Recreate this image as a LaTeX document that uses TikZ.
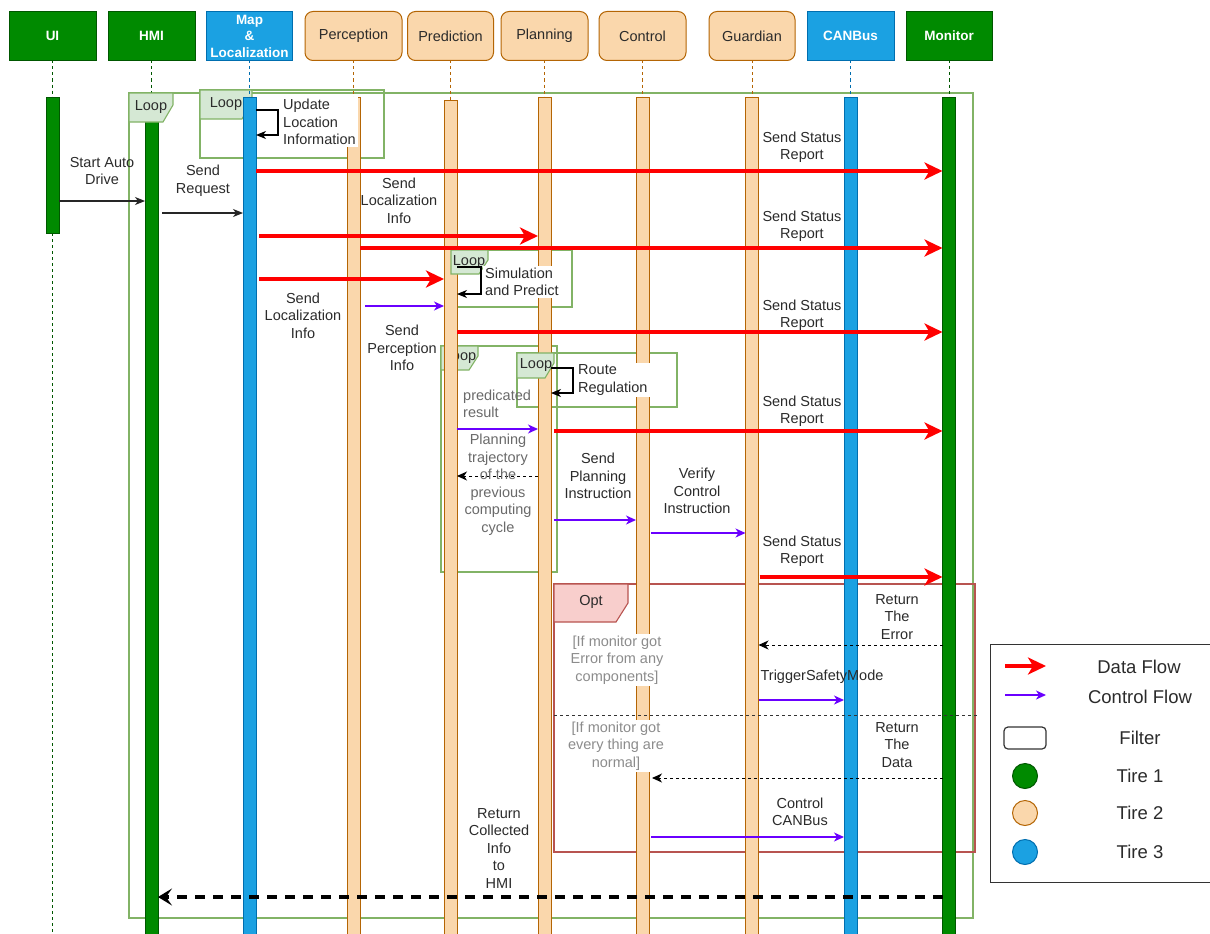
\documentclass[tikz,border=0pt]{standalone}
\usepackage{fontspec}
\setmainfont{Liberation Sans}
\usetikzlibrary{arrows.meta}

\definecolor{gfill}{HTML}{008A00}
\definecolor{gline}{HTML}{005700}
\definecolor{bfill}{HTML}{1BA1E2}
\definecolor{bline}{HTML}{006EAF}
\definecolor{ofill}{HTML}{FAD7AC}
\definecolor{oline}{HTML}{B46504}
\definecolor{frm}{HTML}{82B366}
\definecolor{frmfill}{HTML}{D5E8D4}
\definecolor{optline}{HTML}{B85450}
\definecolor{optfill}{HTML}{F8CECC}
\definecolor{ctrl}{HTML}{6A00FF}
\definecolor{txt}{HTML}{2B2B2B}
\definecolor{notedark}{HTML}{6A6A6A}
\definecolor{notelight}{HTML}{8C8C8C}

\newcommand\lblfont{\fontsize{14.5}{17.5}\selectfont}
\newcommand\hdfont{\fontsize{14.5}{17}\selectfont}
\newcommand\hdbold{\fontsize{13.5}{16.5}\selectfont\bfseries}
\newcommand\lgfont{\fontsize{18.5}{22}\selectfont}

\begin{document}
\begin{tikzpicture}[x=1pt,y=-1pt,
  head/.style={minimum height=49pt, inner sep=0pt, outer sep=0pt, line width=1pt, align=center},
  ghead/.style={head, minimum width=87pt, fill=gfill, draw=gline, text=white, font=\hdbold},
  bhead/.style={head, minimum width=87pt, fill=bfill, draw=bline, text=white, font=\hdbold},
  ohead/.style={head, minimum width=87pt, fill=ofill, draw=oline, text=txt, font=\hdfont, rounded corners=8pt},
  bar/.style={minimum width=13pt, inner sep=0pt, outer sep=0pt, line width=1pt, anchor=north},
  gbar/.style={bar, fill=gfill, draw=gline},
  bbar/.style={bar, fill=bfill, draw=bline},
  obar/.style={bar, fill=ofill, draw=oline},
  gdash/.style={draw=gline, line width=0.9pt, dash pattern=on 3pt off 3pt},
  bdash/.style={draw=bline, line width=0.9pt, dash pattern=on 3pt off 3pt},
  odash/.style={draw=oline, line width=0.9pt, dash pattern=on 3pt off 3pt},
  frame/.style={draw=frm, line width=1.1pt},
  tag/.style={draw=frm, fill=frmfill, line width=1.1pt},
  optframe/.style={draw=optline, line width=1.1pt},
  opttag/.style={draw=optline, fill=optfill, line width=1.1pt},
  data/.style={draw=red, line width=3.5pt, -{Stealth[length=18pt, width=17pt, inset=5pt]}},
  ctl/.style={draw=ctrl, line width=1.3pt, -{Stealth[length=10pt, width=9pt, inset=3pt]}},
  msg/.style={draw=black!85, line width=1.1pt, -{Stealth[length=10pt, width=8pt, inset=3pt]}},
  selfmsg/.style={draw=black, line width=1.1pt, -{Stealth[length=10pt, width=8pt, inset=3pt]}},
  reply/.style={draw=black, line width=1pt, dash pattern=on 3pt off 3pt, -{Stealth[length=10pt, width=9pt, inset=3pt]}},
  bigreply/.style={draw=black, line width=3.5pt, dash pattern=on 10pt off 8pt, -{Stealth[length=14pt, width=17pt, inset=6pt]}},
  lbl/.style={font=\lblfont, text=txt, align=center, inner sep=1pt},
  lblw/.style={lbl, fill=white},
  note/.style={lbl, text=notedark},
  notew/.style={lbl, text=notelight, fill=white, inner sep=2pt},
  looptxt/.style={font=\lblfont, text=txt, inner sep=0pt},
  lgtxt/.style={font=\lgfont, text=txt, inner sep=0pt}
]
\useasboundingbox (0,0) rectangle (1210,934);
\fill[white] (0,0) rectangle (1210,934);

% ---- participants ----
\node[ghead] (hUI)  at (52.5,36)  {UI};
\node[ghead] (hHMI) at (151.5,36) {HMI};
\node[bhead, minimum width=86pt] (hMap) at (249.5,36) {Map\\\&\\Localization};
\node[ohead, minimum width=97pt] (hPer) at (353.5,36) {Perception};
\node[ohead, minimum width=86pt] (hPre) at (450.5,36) {Prediction};
\node[ohead] (hPla) at (544.5,36) {Planning};
\node[ohead] (hCtl) at (642.5,36) {Control};
\node[ohead, minimum width=86pt] (hGua) at (752,36) {Guardian};
\node[bhead] (hCan) at (850.5,36) {CANBus};
\node[ghead, minimum width=86pt] (hMon) at (949,36) {Monitor};

% ---- combined fragments lying under the bars ----
\draw[frame] (129,93) rectangle (973,918);
\draw[frame] (200,90) rectangle (384,158);
\draw[tag] (200,90) -- (252,90) -- (252,102) -- (242,119) -- (200,119) -- cycle;
\node[looptxt] (tLoop2) at (226,104) {Loop};
\draw[frame] (451,250) rectangle (572,307);
\draw[frame] (441,346) rectangle (557,572);
\draw[tag] (441,346) -- (478,346) -- (478,356) -- (469,370) -- (441,370) -- cycle;
\node[looptxt] (tLoop4) at (460,357) {Loop};
\draw[frame] (517,353) rectangle (677,407);
\draw[optframe] (554,584) rectangle (975,852);

% ---- activation bars ----
\node[gbar, minimum height=136pt] (bUI)  at (hUI.south |- 0,97)  {};
\node[gbar, minimum height=837pt] (bHMI) at (hHMI.south |- 0,97) {};
\node[bbar, minimum height=837pt] (bMap) at (hMap.south |- 0,97) {};
\node[obar, minimum height=837pt] (bPer) at (hPer.south |- 0,97) {};
\node[obar, minimum height=834pt] (bPre) at (hPre.south |- 0,100) {};
\node[obar, minimum height=837pt] (bPla) at (hPla.south |- 0,97) {};
\node[obar, minimum height=837pt] (bCtl) at (hCtl.south |- 0,97) {};
\node[obar, minimum height=837pt] (bGua) at (hGua.south |- 0,97) {};
\node[bbar, minimum height=837pt] (bCan) at (hCan.south |- 0,97) {};
\node[gbar, minimum height=837pt] (bMon) at (hMon.south |- 0,97) {};

% ---- lifelines ----
\coordinate (uiEnd) at (52.5,934);
\draw[gdash] (hUI) -- (bUI);
\draw[gdash] (bUI) -- (uiEnd);
\draw[gdash] (hHMI) -- (bHMI);
\draw[bdash] (hMap) -- (bMap);
\draw[odash] (hPer) -- (bPer);
\draw[odash] (hPre) -- (bPre);
\draw[odash] (hPla) -- (bPla);
\draw[odash] (hCtl) -- (bCtl);
\draw[odash] (hGua) -- (bGua);
\draw[bdash] (hCan) -- (bCan);
\draw[gdash] (hMon) -- (bMon);

% ---- tags lying over the bars ----
\draw[tag] (129,93) -- (173,93) -- (173,105) -- (163,122) -- (129,122) -- cycle;
\node[looptxt] (tLoop1) at (151,107) {Loop};
\draw[tag] (451,250) -- (488,250) -- (488,260) -- (479,274) -- (451,274) -- cycle;
\node[looptxt] (tLoop3) at (469,262) {Loop};
\draw[tag] (517,353) -- (554,353) -- (554,363) -- (545,378) -- (517,378) -- cycle;
\node[looptxt] (tLoop5) at (536,365) {Loop};
\draw[opttag] (554,584) -- (628,584) -- (628,603) -- (616,622) -- (554,622) -- cycle;
\node[looptxt] (tOpt) at (591,602) {Opt};
\coordinate (optL) at (554,715);
\coordinate (optR) at (977,715);
\draw[draw=black!80, line width=1pt, dash pattern=on 3pt off 3pt] (optL) -- (optR);

% ---- messages ----
\draw[msg] (bUI.east |- 0,201) -- (bHMI.west |- 0,201);
\draw[msg, shorten <=4pt] (bHMI.east |- 0,213) -- (bMap.west |- 0,213);
\draw[data] (bMap.east |- 0,171) -- (bMon.west |- 0,171);
\draw[data, shorten <=3pt] (bMap.east |- 0,236) -- (bPla.west |- 0,236);
\draw[data] (bPer.east |- 0,248) -- (bMon.west |- 0,248);
\draw[data, shorten <=3pt] (bMap.east |- 0,279) -- (bPre.west |- 0,279);
\draw[ctl, shorten <=5pt] (bPer.east |- 0,306) -- (bPre.west |- 0,306);
\draw[data] (bPre.east |- 0,332) -- (bMon.west |- 0,332);
\draw[ctl] (bPre.east |- 0,429) -- (bPla.west |- 0,429);
\draw[data, shorten <=3pt] (bPla.east |- 0,431) -- (bMon.west |- 0,431);
\draw[reply] (bPla.west |- 0,476) -- (bPre.east |- 0,476);
\draw[ctl, shorten <=3pt] (bPla.east |- 0,520) -- (bCtl.west |- 0,520);
\draw[ctl, shorten <=2pt] (bCtl.east |- 0,533) -- (bGua.west |- 0,533);
\draw[data, shorten <=1pt] (bGua.east |- 0,577) -- (bMon.west |- 0,577);
\draw[reply] (bMon.west |- 0,645) -- (bGua.east |- 0,645);
\draw[ctl] (bGua.east |- 0,700) -- (bCan.west |- 0,700);
\draw[reply, shorten >=3pt] (bMon.west |- 0,778) -- (bCtl.east |- 0,778);
\draw[ctl, shorten <=2pt] (bCtl.east |- 0,837) -- (bCan.west |- 0,837);
\draw[bigreply] (bMon.west |- 0,897) -- (bHMI.east |- 0,897);

% self calls
\draw[selfmsg] (bMap.east |- 0,110) -| ++(22,25) -- (bMap.east |- 0,135);
\draw[selfmsg] (bPla.east |- 0,368) -| ++(22,25) -- (bPla.east |- 0,393);

% ---- labels ----
\node[lbl] (l1) at (102,171) {Start Auto\\Drive};
\node[lbl] (l2) at (203,181) {Send\\Request};
\node[lblw, align=left, anchor=west, inner sep=2pt] (l3) at (281,122) {Update\\Location\\Information};
\node[lbl] (l4) at (802,147.5) {Send Status\\Report};
\node[lbl] (l5) at (399,200.5) {Send\\Localization\\Info};
\node[lbl] (l6) at (802,226) {Send Status\\Report};
\node[lbl] (l7) at (303,315.5) {Send\\Localization\\Info};
\node[lbl] (l8) at (402,348) {Send\\Perception\\Info};
\node[lblw, align=left, anchor=west, inner sep=2pt] (l9) at (483,282) {Simulation\\and Predict};
\draw[selfmsg] (bPre.east |- 0,267) -| ++(24,27) -- (bPre.east |- 0,294);
\node[lbl] (l10) at (802,315) {Send Status\\Report};
\node[lblw, align=left, anchor=west, inner sep=2pt] (l11) at (576,380) {Route\\Regulation};
\node[note, align=left, anchor=west] (l12) at (462,404) {predicated\\result};
\node[lbl] (l13) at (802,411) {Send Status\\Report};
\node[note] (l14) at (498,484.5) {Planning\\trajectory\\of the\\previous\\computing\\cycle};
\node[lbl] (l15) at (598,476) {Send\\Planning\\Instruction};
\node[lbl] (l16) at (697,491) {Verify\\Control\\Instruction};
\node[lbl] (l17) at (802,551) {Send Status\\Report};
\node[lbl] (l18) at (897,617) {Return\\The\\Error};
\node[notew] (l19) at (617,660) {[If monitor got\\Error from any\\components]};
\node[lbl] (l20) at (822,677) {TriggerSafetyMode};
\node[notew] (l21) at (616,746) {[If monitor got\\every thing are\\normal]};
\node[lbl] (l22) at (897,745) {Return\\The\\Data};
\node[lbl] (l23) at (800,812) {Control\\CANBus};
\node[lbl] (l24) at (499,848.5) {Return\\Collected\\Info\\to\\HMI};

% ---- legend ----
\node[draw=black!80, line width=1.2pt, minimum width=220pt, minimum height=238pt,
      inner sep=0pt, anchor=north west] (legend) at (989.5,643.5) {};
\coordinate (lgA0) at (1005,666);
\coordinate (lgA1) at (1046,666);
\coordinate (lgB0) at (1005,695);
\coordinate (lgB1) at (1046,695);
\draw[data] (lgA0) -- (lgA1);
\draw[ctl] (lgB0) -- (lgB1);
\node[draw=black!80, line width=1.2pt, rounded corners=4pt, minimum width=42pt,
      minimum height=22pt, inner sep=0pt] (lgFilter) at (1025,738) {};
\node[circle, fill=gfill, draw=gline, line width=1pt, minimum size=25pt, inner sep=0pt] (lgT1) at (1025,776) {};
\node[circle, fill=ofill, draw=oline, line width=1pt, minimum size=25pt, inner sep=0pt] (lgT2) at (1025,813) {};
\node[circle, fill=bfill, draw=bline, line width=1pt, minimum size=25pt, inner sep=0pt] (lgT3) at (1025,852) {};
\node[lgtxt] (lgL1) at (1139,667) {Data Flow};
\node[lgtxt] (lgL2) at (1140,697) {Control Flow};
\node[lgtxt] (lgL3) at (1140,738) {Filter};
\node[lgtxt] (lgL4) at (1140,776) {Tire 1};
\node[lgtxt] (lgL5) at (1140,813) {Tire 2};
\node[lgtxt] (lgL6) at (1140,852) {Tire 3};
\end{tikzpicture}
\end{document}
